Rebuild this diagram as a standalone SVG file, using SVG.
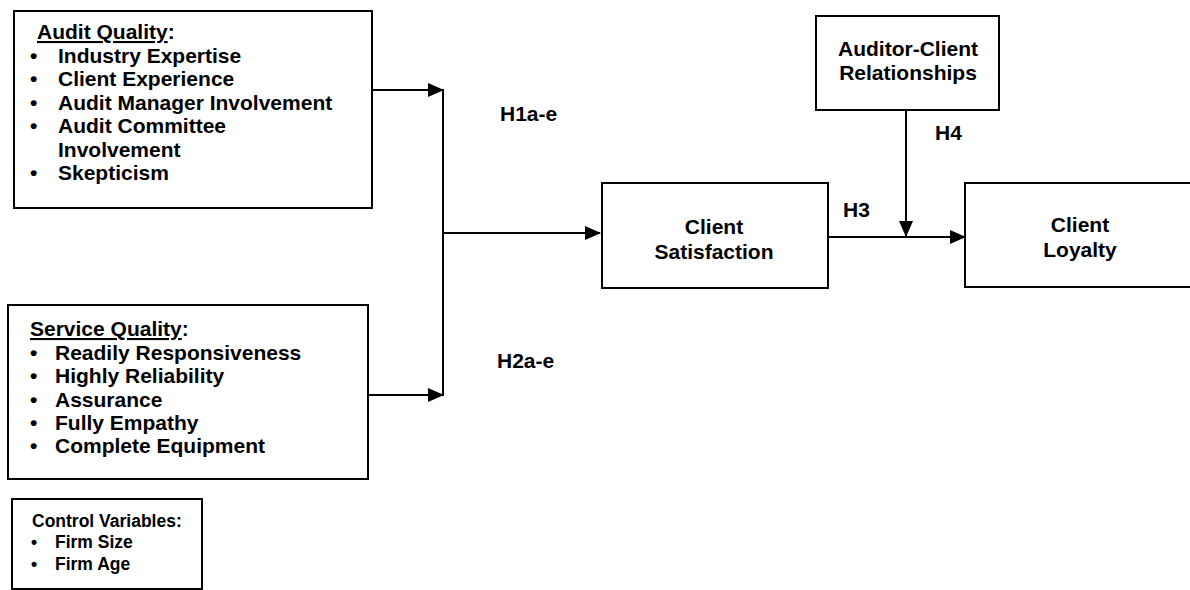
<svg xmlns="http://www.w3.org/2000/svg" width="1190" height="590" viewBox="0 0 1190 590">
<defs>
<style>
.box{fill:#fff;stroke:#000;stroke-width:2}
.t{font-family:"Liberation Sans",Arial,sans-serif;font-weight:bold;font-size:21px;fill:#000}
.s{font-family:"Liberation Sans",Arial,sans-serif;font-weight:bold;font-size:17.5px;fill:#000}
.c{text-anchor:middle}
.ln{fill:none;stroke:#000;stroke-width:2}
</style>
<marker id="ah" markerWidth="16" markerHeight="14" refX="15" refY="7" orient="auto" markerUnits="userSpaceOnUse">
<path d="M0,0 L16,7 L0,14 Z" fill="#000"/>
</marker>
</defs>
<rect width="1190" height="590" fill="#fff"/>
<g id="audit-quality">
<rect class="box" x="14" y="11" width="358" height="197"/>
<text class="t" x="37" y="39"><tspan text-decoration="underline">Audit Quality</tspan>:</text>
<text class="t" x="30" y="63">•</text><text class="t" x="58" y="63">Industry Expertise</text>
<text class="t" x="30" y="86">•</text><text class="t" x="58" y="86">Client Experience</text>
<text class="t" x="30" y="110">•</text><text class="t" x="58" y="110">Audit Manager Involvement</text>
<text class="t" x="30" y="133">•</text><text class="t" x="58" y="133">Audit Committee</text>
<text class="t" x="58" y="157">Involvement</text>
<text class="t" x="30" y="180">•</text><text class="t" x="58" y="180">Skepticism</text>
</g>
<g id="service-quality">
<rect class="box" x="8" y="305" width="360" height="174"/>
<text class="t" x="30" y="336"><tspan text-decoration="underline">Service Quality</tspan>:</text>
<text class="t" x="30" y="360">•</text><text class="t" x="55" y="360">Readily Responsiveness</text>
<text class="t" x="30" y="383">•</text><text class="t" x="55" y="383">Highly Reliability</text>
<text class="t" x="30" y="407">•</text><text class="t" x="55" y="407">Assurance</text>
<text class="t" x="30" y="430">•</text><text class="t" x="55" y="430">Fully Empathy</text>
<text class="t" x="30" y="453">•</text><text class="t" x="55" y="453">Complete Equipment</text>
</g>
<g id="control-variables">
<rect class="box" x="12" y="499" width="190" height="90"/>
<text class="s" x="32" y="527">Control Variables:</text>
<text class="s" x="31" y="548">•</text><text class="s" x="55" y="548">Firm Size</text>
<text class="s" x="31" y="570">•</text><text class="s" x="55" y="570">Firm Age</text>
</g>
<g id="client-satisfaction">
<rect class="box" x="602" y="183" width="226" height="105"/>
<text class="t c" x="714" y="234">Client</text>
<text class="t c" x="714" y="259">Satisfaction</text>
</g>
<g id="auditor-client">
<rect class="box" x="816" y="16" width="183" height="94"/>
<text class="t c" x="908" y="56">Auditor-Client</text>
<text class="t c" x="908" y="80">Relationships</text>
</g>
<g id="client-loyalty">
<rect class="box" x="965" y="183" width="240" height="104"/>
<text class="t c" x="1080" y="232">Client</text>
<text class="t c" x="1080" y="257">Loyalty</text>
</g>
<g id="connectors">
<line class="ln" x1="372" y1="90" x2="443" y2="90" marker-end="url(#ah)"/>
<line class="ln" x1="368" y1="395" x2="443" y2="395" marker-end="url(#ah)"/>
<line class="ln" x1="443" y1="89" x2="443" y2="396"/>
<line class="ln" x1="443" y1="233" x2="600" y2="233" marker-end="url(#ah)"/>
<line class="ln" x1="828" y1="237" x2="965" y2="237" marker-end="url(#ah)"/>
<line class="ln" x1="906" y1="110" x2="906" y2="236" marker-end="url(#ah)"/>
<text class="t" x="500" y="121">H1a-e</text>
<text class="t" x="497" y="368">H2a-e</text>
<text class="t" x="843" y="217">H3</text>
<text class="t" x="935" y="140">H4</text>
</g>
</svg>
